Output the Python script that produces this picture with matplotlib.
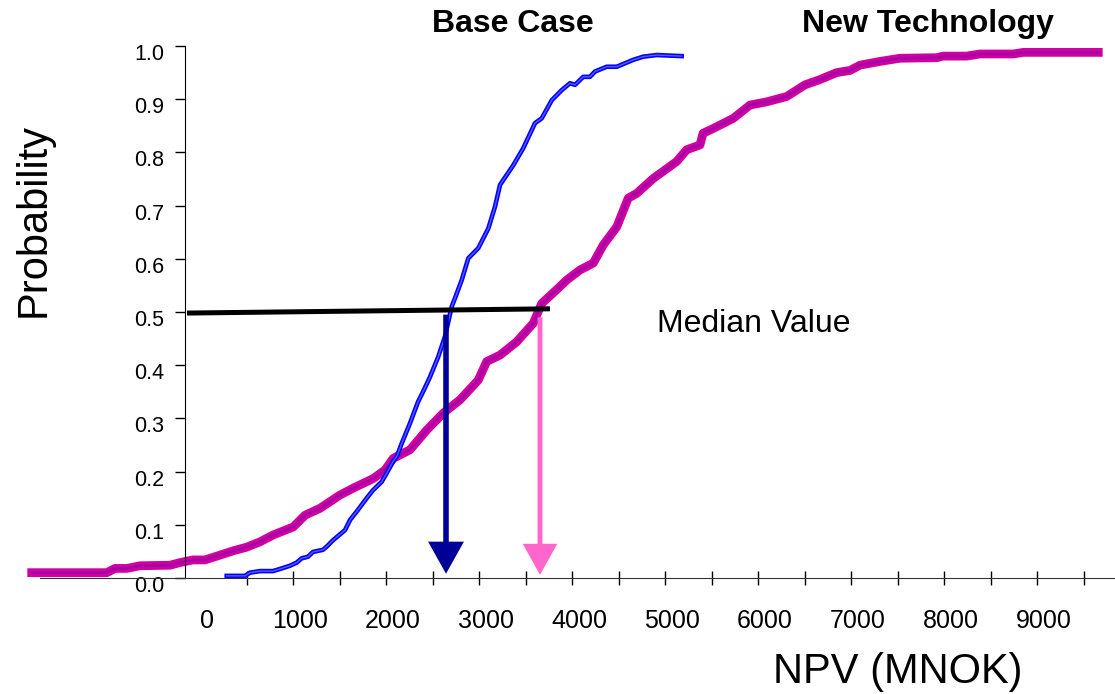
import numpy as np
import matplotlib.pyplot as plt
from matplotlib.transforms import ScaledTranslation

plt.rcParams['font.family'] = ['Liberation Sans', 'DejaVu Sans']

# cumulative probability curves (NPV in MNOK)
base_npv = [212, 409, 462, 570, 710, 785, 892, 965, 1018, 1086, 1140, 1247, 1287,
            1355, 1484, 1538, 1610, 1717, 1785, 1879, 1932, 2000, 2040, 2094, 2183,
            2269, 2323, 2398, 2487, 2559, 2631, 2667, 2739, 2810, 2917, 3025, 3097,
            3151, 3294, 3401, 3527, 3599, 3707, 3814, 3903, 3957, 4046, 4118, 4172,
            4298, 4406, 4584, 4692, 4836, 5104]
base_prob = [0.004, 0.004, 0.010, 0.013, 0.013, 0.017, 0.023, 0.029, 0.037, 0.040,
             0.049, 0.053, 0.059, 0.071, 0.090, 0.109, 0.125, 0.150, 0.165, 0.181,
             0.197, 0.219, 0.228, 0.253, 0.291, 0.331, 0.350, 0.378, 0.416, 0.454,
             0.510, 0.526, 0.560, 0.601, 0.620, 0.657, 0.698, 0.739, 0.776, 0.808,
             0.855, 0.864, 0.898, 0.917, 0.930, 0.927, 0.942, 0.942, 0.952, 0.961,
             0.961, 0.974, 0.980, 0.983, 0.981]

new_npv = [-1885, -1078, -989, -863, -720, -398, -290, -151, -22, 104, 280, 427, 570,
           713, 928, 1054, 1215, 1430, 1573, 1788, 1914, 2003, 2183, 2362, 2541, 2721,
           2917, 3008, 3151, 3330, 3509, 3599, 3778, 3868, 4011, 4154, 4261, 4406,
           4530, 4621, 4799, 5051, 5158, 5301, 5334, 5444, 5659, 5839, 6018, 6233,
           6430, 6592, 6771, 6914, 7022, 7237, 7452, 7846, 7917, 8169, 8312, 8670,
           8778, 9584]
new_prob = [0.010, 0.010, 0.018, 0.018, 0.023, 0.024, 0.029, 0.034, 0.034, 0.041,
            0.051, 0.058, 0.068, 0.081, 0.096, 0.118, 0.131, 0.156, 0.169, 0.187,
            0.203, 0.225, 0.241, 0.278, 0.310, 0.335, 0.372, 0.407, 0.419, 0.444,
            0.479, 0.516, 0.545, 0.560, 0.579, 0.592, 0.626, 0.660, 0.714, 0.723,
            0.751, 0.783, 0.805, 0.814, 0.836, 0.845, 0.864, 0.889, 0.895, 0.905,
            0.927, 0.937, 0.950, 0.954, 0.964, 0.971, 0.977, 0.978, 0.981, 0.981,
            0.985, 0.985, 0.988, 0.988]

median_line_x = [-215, 3688]
median_line_y = [0.498, 0.506]
median_base = 2570
median_new = 3581

x_labels = [0, 1000, 2000, 3000, 4000, 5000, 6000, 7000, 8000, 9000]
y_ticks = [0.0, 0.1, 0.2, 0.3, 0.4, 0.5, 0.6, 0.7, 0.8, 0.9, 1.0]

fig = plt.figure(figsize=(11.15, 6.94), dpi=100)
ax = fig.add_axes([0, 0.16715, 1, 0.76657])
ax.set_xlim(-2226, 9764)
ax.set_ylim(0, 1)

# curves
ax.plot(new_npv, new_prob, color='#D000A0', lw=6.3, solid_joinstyle='round', clip_on=False)
ax.plot(new_npv, new_prob, color='#A800A8', lw=2.0, solid_joinstyle='round', clip_on=False)
ax.plot(base_npv, base_prob, color='#0000FF', lw=3.3, solid_joinstyle='round', clip_on=False)
ax.plot(base_npv, base_prob, color='#5A5AFF', lw=1.0, solid_joinstyle='round', clip_on=False)

# median line and arrows
ax.plot(median_line_x, median_line_y, color='black', lw=3.6, solid_capstyle='butt')
ax.annotate('', xy=(median_base, 0.008), xytext=(median_base, 0.495),
            arrowprops=dict(arrowstyle='-|>,head_length=1.7,head_width=0.95',
                            lw=4, color='#000099', shrinkA=0, shrinkB=0,
                            mutation_scale=10, joinstyle='miter', capstyle='butt'))
ax.annotate('', xy=(median_new, 0.006), xytext=(median_new, 0.49),
            arrowprops=dict(arrowstyle='-|>,head_length=1.7,head_width=0.95',
                            lw=3.5, color='#FF66CC', shrinkA=0, shrinkB=0,
                            mutation_scale=10, joinstyle='miter', capstyle='butt'))

# axes
for s in ['top', 'right']:
    ax.spines[s].set_visible(False)
ax.spines['left'].set_position(('data', -237))
ax.spines['left'].set_bounds(0, 1)
ax.spines['bottom'].set_bounds(-1796, 9764)
ax.spines['bottom'].set_color('#333333')

ax.set_yticks(y_ticks)
ax.set_yticklabels(['%.1f' % v for v in y_ticks])
ax.tick_params(axis='y', direction='out', length=7, width=1, pad=8, labelsize=15.5)
offset = ScaledTranslation(0, -0.06, fig.dpi_scale_trans)
for lab in ax.get_yticklabels():
    lab.set_transform(lab.get_transform() + offset)

ax.set_xticks(np.arange(430, 9500, 500))
ax.set_xticklabels([])
ax.set_xticks(x_labels, minor=True)
ax.set_xticklabels([str(v) for v in x_labels], minor=True)
ax.tick_params(axis='x', which='major', direction='inout', length=10, width=1)
ax.tick_params(axis='x', which='minor', length=0, pad=22, labelsize=18)

fig.text(0.030, 0.683, 'Probability', rotation=90, fontsize=30, ha='center', va='center')
fig.text(0.805, 0.032, 'NPV (MNOK)', fontsize=30, ha='center', va='center')
fig.text(0.460, 0.965, 'Base Case', fontsize=23, fontweight='bold', ha='center', va='center')
fig.text(0.832, 0.965, 'New Technology', fontsize=23, fontweight='bold', ha='center', va='center')
fig.text(0.589, 0.533, 'Median Value', fontsize=23, ha='left', va='center')

fig.savefig('out.png', dpi=100)
